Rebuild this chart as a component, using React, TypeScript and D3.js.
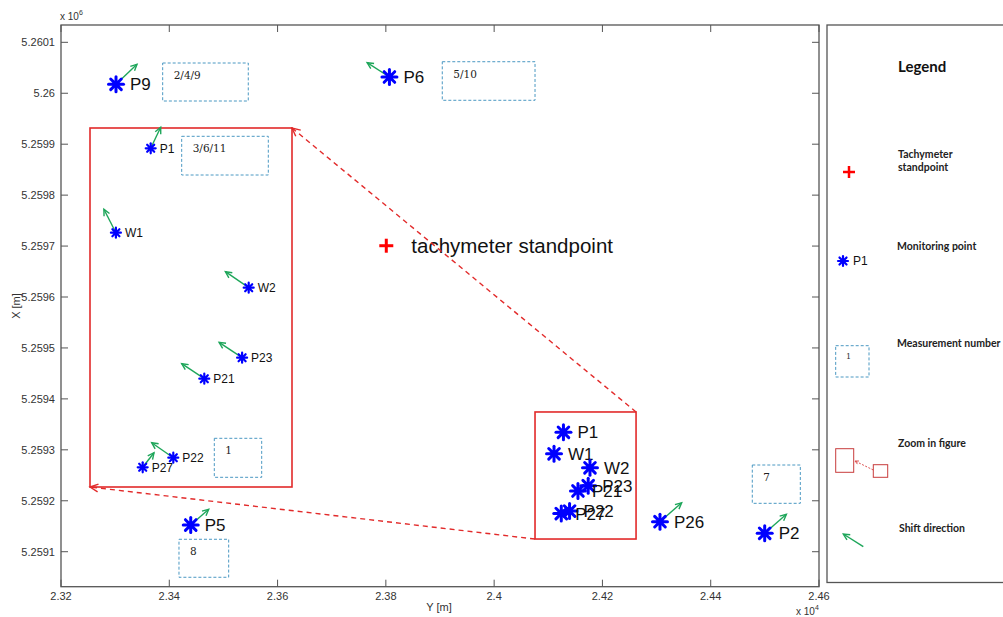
import React from 'react';
import * as d3 from 'd3';

// plot frame (px)
const W = 1003;
const H = 617;
const LEFT = 61;
const RIGHT = 819;
const TOP = 25;
const BOTTOM = 586.7;

// axis values (Y = easting, X = northing, in metres)
const yDomain = [23200, 24600];
const xDomain = [5259031.3, 5260134];
const yTicks = [23200, 23400, 23600, 23800, 24000, 24200, 24400, 24600];
const xTicks = [5259100, 5259200, 5259300, 5259400, 5259500, 5259600, 5259700, 5259800, 5259900, 5260000, 5260100];

// monitoring points outside the zoom area
const outerNames = ['P9', 'P6', 'P5', 'P26', 'P2'];
const outerY = [23301.6, 23806.6, 23439.6, 24306.3, 24499.7];
const outerX = [5260017.6, 5260031.9, 5259152.4, 5259158.9, 5259136.1];
const outerShiftE = [21, -22.3, 18, 21.7, 21.7];
const outerShiftN = [20, 14.3, 15.7, 19, 19];

// monitoring points in the zoomed cluster
const clusterNames = ['P1', 'W1', 'W2', 'P23', 'P21', 'P22', 'P27'];
const clusterY = [24128, 24110.6, 24177, 24173.7, 24154.8, 24139.3, 24124];
const clusterX = [5259334.4, 5259292.2, 5259264.7, 5259229.7, 5259219.2, 5259179.7, 5259174.9];
const clusterShiftE = [10, -12, -23.3, -23, -22.6, -21.6, 11.3];
const clusterShiftN = [21, 23.4, 16, 15.4, 15, 15, 14.6];

// tachymeter standpoint
const standY = 23800.8;
const standX = 5259700.7;

// zoom source region and inset target region (data coords)
const zoomSrcY = [24075.5, 24262.1];
const zoomSrcX = [5259124.9, 5259374.3];
const insetYDomain = [24097.65, 24198.65];
const insetXDomain = [5259165.05, 5259344.55];

// measurement number boxes
const measLabels = ['2/4/9', '5/10', '8', '7', '3/6/11', '1'];
const measY0 = [23387.8, 23904.2, 23417.9, 24476.8, 24143.5, 24159.8];
const measY1 = [23545.9, 24075.5, 23509.7, 24565.5, 24186.8, 24183.5];
const measXTop = [5260059.4, 5260061.9, 5259124.4, 5259270.2, 5259340.4, 5259189.4];
const measXBot = [5259984.8, 5259986.2, 5259049.8, 5259195.0, 5259321.05, 5259169.9];
const measInset = [false, false, false, false, true, true];

const xs = d3.scaleLinear().domain(yDomain).range([LEFT, RIGHT]);
const ys = d3.scaleLinear().domain(xDomain).range([BOTTOM, TOP]);
const ixs = d3.scaleLinear().domain(insetYDomain).range([90, 292]);
const iys = d3.scaleLinear().domain(insetXDomain).range([487, 128]);
const shiftScale = d3.scaleLinear().domain([0, 1]).range([0, 1]);

const BLUE = '#0000ff';
const GREEN = '#1ea65a';
const RED = '#e22a2a';
const AXIS = '#555';
const BOXC = '#4a98c2';
const SANS = '"Liberation Sans", Arial, sans-serif';
const SERIF = '"DejaVu Serif", "Liberation Serif", serif';
const LEG = 'Lato, "Open Sans", sans-serif';

function Star({ x, y, r, sw }: { x: number; y: number; r: number; sw: number }) {
  const angles = [0, 45, 90, 135];
  return (
    <g>
      {angles.map(a => {
        const t = (a * Math.PI) / 180;
        return (
          <line key={a} x1={x - r * Math.cos(t)} y1={y - r * Math.sin(t)}
            x2={x + r * Math.cos(t)} y2={y + r * Math.sin(t)}
            stroke={BLUE} strokeWidth={sw} strokeLinecap="round" />
        );
      })}
      <circle cx={x} cy={y} r={r * 0.5} fill={BLUE} />
    </g>
  );
}

function Arrow({ x1, y1, x2, y2, color, width = 1.4, head = 7, dash }:
  { x1: number; y1: number; x2: number; y2: number; color: string; width?: number; head?: number; dash?: string }) {
  const ang = Math.atan2(y2 - y1, x2 - x1);
  const a1 = ang + Math.PI - 0.45;
  const a2 = ang + Math.PI + 0.45;
  return (
    <g stroke={color} strokeWidth={width} fill="none">
      <line x1={x1} y1={y1} x2={x2} y2={y2} strokeDasharray={dash} />
      <polyline points={`${x2 + head * Math.cos(a1)},${y2 + head * Math.sin(a1)} ${x2},${y2} ${x2 + head * Math.cos(a2)},${y2 + head * Math.sin(a2)}`} />
    </g>
  );
}

function fmtX(v: number) {
  return parseFloat((v / 1e6).toFixed(4)).toString();
}
function fmtY(v: number) {
  return parseFloat((v / 1e4).toFixed(2)).toString();
}

export default function App() {
  const zx0 = xs(zoomSrcY[0]);
  const zx1 = xs(zoomSrcY[1]);
  const zy0 = ys(zoomSrcX[1]);
  const zy1 = ys(zoomSrcX[0]);
  const ix0 = ixs(insetYDomain[0]);
  const ix1 = ixs(insetYDomain[1]);
  const iy0 = iys(insetXDomain[1]);
  const iy1 = iys(insetXDomain[0]);

  return (
    <svg width={W} height={H} viewBox={`0 0 ${W} ${H}`}
      style={{ position: 'absolute', left: 0, top: 0, background: '#fff' }}>
      {/* axes frame */}
      <rect x={LEFT} y={TOP} width={RIGHT - LEFT} height={BOTTOM - TOP} fill="#fff" stroke={AXIS} strokeWidth={1.3} />
      {yTicks.map(t => (
        <g key={'yt' + t}>
          <line x1={xs(t)} x2={xs(t)} y1={BOTTOM} y2={BOTTOM - 7} stroke={AXIS} />
          <line x1={xs(t)} x2={xs(t)} y1={TOP} y2={TOP + 7} stroke={AXIS} />
          <text x={xs(t)} y={600} textAnchor="middle" fontSize={11} fontFamily={SANS} fill="#333">{fmtY(t)}</text>
        </g>
      ))}
      {xTicks.map(t => (
        <g key={'xt' + t}>
          <line x1={LEFT} x2={LEFT + 7} y1={ys(t)} y2={ys(t)} stroke={AXIS} />
          <line x1={RIGHT} x2={RIGHT - 7} y1={ys(t)} y2={ys(t)} stroke={AXIS} />
          <text x={55} y={ys(t)} dy="0.35em" textAnchor="end" fontSize={11} fontFamily={SANS} fill="#333">{fmtX(t)}</text>
        </g>
      ))}
      <text x={60} y={20} fontSize={10} fontFamily={SANS} fill="#333">x 10<tspan fontSize={7} dy={-5}>6</tspan></text>
      <text x={796} y={615} fontSize={10} fontFamily={SANS} fill="#333">x 10<tspan fontSize={7} dy={-5}>4</tspan></text>
      <text x={439} y={611} textAnchor="middle" fontSize={11} fontFamily={SANS} fill="#333">Y [m]</text>
      <text transform="translate(20,306) rotate(-90)" textAnchor="middle" fontSize={11} fontFamily={SANS} fill="#333">X [m]</text>

      {/* measurement boxes */}
      {measLabels.map((m, i) => {
        const sx = measInset[i] ? ixs : xs;
        const sy = measInset[i] ? iys : ys;
        const x0 = sx(measY0[i]);
        const x1 = sx(measY1[i]);
        const y0 = sy(measXTop[i]);
        const y1 = sy(measXBot[i]);
        return (
          <g key={'m' + i}>
            <rect x={x0} y={y0} width={x1 - x0} height={y1 - y0} fill="none" stroke={BOXC} strokeWidth={1} strokeDasharray="3,2" />
            <text x={x0 + 11} y={y0 + 16} fontSize={10.5} fontFamily={SERIF} fill="#222">{m}</text>
          </g>
        );
      })}

      {/* tachymeter standpoint */}
      <g stroke="#ff0000" strokeWidth={3}>
        <line x1={xs(standY) - 7} x2={xs(standY) + 7} y1={ys(standX)} y2={ys(standX)} />
        <line x1={xs(standY)} x2={xs(standY)} y1={ys(standX) - 7} y2={ys(standX) + 7} />
      </g>
      <text x={xs(standY) + 25} y={ys(standX)} dy="0.35em" fontSize={20.5} fontFamily={SANS} fill="#111">tachymeter standpoint</text>

      {/* outer points */}
      {outerNames.map((n, i) => {
        const x = xs(outerY[i]);
        const y = ys(outerX[i]);
        return (
          <g key={n}>
            <Arrow x1={x} y1={y} x2={x + shiftScale(outerShiftE[i])} y2={y - shiftScale(outerShiftN[i])} color={GREEN} />
            <Star x={x} y={y} r={7.5} sw={3} />
            <text x={x + 14} y={y} dy="0.36em" fontSize={17} fontFamily={SANS} fill="#111">{n}</text>
          </g>
        );
      })}

      {/* cluster in main scale */}
      {clusterNames.map((n, i) => {
        const x = xs(clusterY[i]);
        const y = ys(clusterX[i]);
        return (
          <g key={'c' + n}>
            <Star x={x} y={y} r={7.5} sw={3} />
            <text x={x + 14} y={y} dy="0.36em" fontSize={17} fontFamily={SANS} fill="#111">{n}</text>
          </g>
        );
      })}

      {/* zoom source rectangle */}
      <rect x={zx0} y={zy0} width={zx1 - zx0} height={zy1 - zy0} fill="none" stroke={RED} strokeWidth={1.6} />
      <Arrow x1={zx1} y1={zy0} x2={ix1} y2={iy0} color={RED} width={1.4} head={9} dash="5,4" />
      <Arrow x1={zx0} y1={zy1} x2={ix0} y2={iy1} color={RED} width={1.4} head={9} dash="5,4" />

      {/* inset */}
      <rect x={ix0} y={iy0} width={ix1 - ix0} height={iy1 - iy0} fill="none" stroke={RED} strokeWidth={1.6} />
      {clusterNames.map((n, i) => {
        const x = ixs(clusterY[i]);
        const y = iys(clusterX[i]);
        return (
          <g key={'i' + n}>
            <Arrow x1={x} y1={y} x2={x + shiftScale(clusterShiftE[i])} y2={y - shiftScale(clusterShiftN[i])} color={GREEN} />
            <Star x={x} y={y} r={5} sw={2.2} />
            <text x={x + 9} y={y} dy="0.36em" fontSize={12} fontFamily={SANS} fill="#111">{n}</text>
          </g>
        );
      })}

      {/* legend */}
      <rect x={827} y={25} width={200} height={557.5} fill="#fff" stroke={AXIS} strokeWidth={1.3} />
      <text x={898} y={72} fontSize={15} fontWeight={700} fontFamily={LEG} fill="#111">Legend</text>
      <g stroke="#ff0000" strokeWidth={2.5}>
        <line x1={843} x2={855} y1={172} y2={172} />
        <line x1={849} x2={849} y1={166} y2={178} />
      </g>
      <text x={898} y={158} fontSize={10.5} fontWeight={700} fontFamily={LEG} fill="#222">Tachymeter</text>
      <text x={898} y={171} fontSize={10.5} fontWeight={700} fontFamily={LEG} fill="#222">standpoint</text>
      <Star x={843} y={261} r={5} sw={2.2} />
      <text x={853} y={261} dy="0.36em" fontSize={12} fontFamily={SANS} fill="#111">P1</text>
      <text x={897} y={250} fontSize={10.5} fontWeight={700} fontFamily={LEG} fill="#222">Monitoring point</text>
      <rect x={835.7} y={345.7} width={33.3} height={31.3} fill="none" stroke={BOXC} strokeDasharray="3,2" />
      <text x={846} y={359} fontSize={8} fontFamily={SERIF} fill="#333">1</text>
      <text x={897} y={347} fontSize={10.5} fontWeight={700} fontFamily={LEG} fill="#222">Measurement number</text>
      <rect x={835.7} y={448.7} width={18} height={23.6} fill="none" stroke="#c83c3c" strokeWidth={1} />
      <rect x={873.3} y={464.7} width={14.4} height={12.6} fill="none" stroke="#c83c3c" strokeWidth={1} />
      <Arrow x1={873.3} y1={470} x2={855} y2={461} color="#d84040" width={0.9} head={4} dash="2,1.5" />
      <text x={898} y={447} fontSize={10.5} fontWeight={700} fontFamily={LEG} fill="#222">Zoom in figure</text>
      <Arrow x1={863.3} y1={546.7} x2={843.3} y2={534} color={GREEN} width={1.4} />
      <text x={899} y={532} fontSize={10.5} fontWeight={700} fontFamily={LEG} fill="#222">Shift direction</text>
    </svg>
  );
}
